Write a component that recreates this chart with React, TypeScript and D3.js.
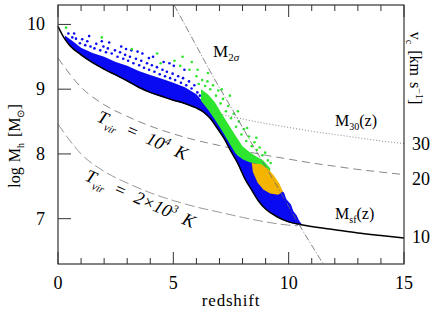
import React from 'react';
import * as d3 from 'd3';

// star-formation threshold mass M_sf(z), solid
const msfZ = [0, 0.25, 0.5, 1, 1.5, 2, 2.5, 3, 3.5, 4, 4.5, 5, 5.5, 6, 6.3, 6.6, 6.9, 7.2, 7.5, 7.8, 8.1, 8.4, 8.7, 9.0, 9.5, 10, 10.5, 11, 12, 13, 14, 15];
const msfM = [9.97, 9.8, 9.68, 9.53, 9.41, 9.31, 9.22, 9.13, 9.03, 8.95, 8.89, 8.83, 8.78, 8.71, 8.65, 8.55, 8.4, 8.24, 8.04, 7.85, 7.62, 7.44, 7.27, 7.15, 7.03, 6.95, 6.91, 6.88, 6.83, 6.78, 6.74, 6.7];

// T_vir = 1e4 K, dashed
const t4Z = [0, 1, 2, 3, 4, 5, 6, 7, 8, 9, 10, 11, 12, 13, 14, 15];
const t4M = [9.48, 9.03, 8.76, 8.58, 8.43, 8.31, 8.21, 8.13, 8.05, 7.98, 7.92, 7.86, 7.81, 7.76, 7.72, 7.68];

// T_vir = 2e3 K, dashed
const t2Z = [0, 1, 2, 3, 4, 5, 6, 7, 8, 9, 10, 10.4];
const t2M = [8.46, 8.0, 7.73, 7.55, 7.4, 7.28, 7.18, 7.1, 7.02, 6.95, 6.9, 6.89];

// M_30(z), dotted
const m30Z = [6.5, 7, 8, 9, 10, 11, 12, 13, 14, 15];
const m30M = [8.67, 8.62, 8.54, 8.47, 8.41, 8.35, 8.3, 8.25, 8.2, 8.16];

// M_2sigma, dash-dot
const m2sZ = [5.03, 5.86, 6.73, 7.6, 8.5, 9.4, 10.4, 11.5];
const m2sM = [10.3, 9.76, 9.19, 8.66, 8.1, 7.56, 6.94, 6.3];

// upper edge of the dense blue cloud
const blueTopZ = [0.3, 0.6, 1, 1.5, 2, 2.5, 3, 3.5, 4, 4.5, 5, 5.5, 6, 6.3, 6.6, 6.9, 7.2, 7.5, 7.8, 8.1, 8.4, 8.7, 9.0, 9.2, 9.3, 9.5, 9.6, 9.8, 9.9, 10.1, 10.2, 10.35, 10.45, 10.55];
const blueTopM = [9.83, 9.75, 9.64, 9.56, 9.5, 9.42, 9.36, 9.28, 9.22, 9.16, 9.1, 9.03, 8.92, 8.8, 8.66, 8.5, 8.33, 8.14, 7.97, 7.92, 7.88, 7.86, 7.8, 7.72, 7.64, 7.56, 7.47, 7.4, 7.3, 7.22, 7.12, 7.05, 6.97, 6.92];

// green band above the knee
const greenZoneZ = [6.2, 6.5, 6.8, 7.1, 7.4, 7.7, 8.0, 8.3, 8.6, 8.9, 9.2];
const greenZoneM = [9.0, 8.92, 8.8, 8.62, 8.45, 8.28, 8.12, 8.03, 7.96, 7.9, 7.78];

// orange patch
const orangeZ = [8.4, 8.8, 9.1, 9.35, 9.6, 9.75, 9.55, 9.2, 8.9, 8.65, 8.45];
const orangeM = [7.86, 7.84, 7.77, 7.67, 7.54, 7.42, 7.37, 7.39, 7.45, 7.56, 7.72];

const blueSpeckles: [number, number][] = [
  [0.45, 9.86], [0.62, 9.8], [0.78, 9.78], [0.95, 9.71], [1.05, 9.77], [1.18, 9.68], [1.27, 9.74], [1.41, 9.66], [1.58, 9.63],
  [1.66, 9.7], [1.83, 9.6], [1.97, 9.66], [2.08, 9.57], [2.16, 9.63], [2.33, 9.55], [2.47, 9.6], [2.58, 9.5], [2.69, 9.57],
  [2.83, 9.47], [2.91, 9.53], [3.04, 9.44], [3.12, 9.5], [3.27, 9.4], [3.38, 9.47], [3.52, 9.37], [3.61, 9.44], [3.73, 9.33],
  [3.86, 9.4], [3.95, 9.3], [4.07, 9.37], [4.18, 9.27], [4.29, 9.34], [4.41, 9.23], [4.53, 9.3], [4.64, 9.2], [4.72, 9.27],
  [4.86, 9.17], [4.97, 9.24], [5.08, 9.14], [5.21, 9.2], [5.33, 9.1], [5.42, 9.17], [5.56, 9.06], [5.68, 9.12], [5.79, 9.01],
  [5.91, 9.06], [6.04, 8.95], [6.15, 8.9], [1.35, 9.82], [2.22, 9.72], [2.74, 9.66], [3.18, 9.6], [3.66, 9.55], [4.12, 9.5],
  [4.58, 9.42], [5.02, 9.36], [5.48, 9.3], [3.94, 9.48], [4.83, 9.4], [2.95, 9.62], [0.7, 9.86], [1.9, 9.74], [3.45, 9.58],
];

const greenSpeckles: [number, number][] = [
  [0.35, 9.95], [1.9, 9.8], [3.2, 9.62], [4.3, 9.55], [4.45, 9.4], [5.05, 9.44], [5.3, 9.36], [5.7, 9.3], [5.8, 9.42], [5.4, 9.5],
  [6.0, 9.2], [6.1, 9.08], [6.05, 9.3], [6.25, 9.14], [6.38, 9.05], [6.48, 9.12], [6.6, 9.0], [6.72, 9.06], [6.85, 8.9],
  [6.95, 8.98], [7.05, 8.78], [7.15, 8.85], [7.28, 8.66], [7.38, 8.74], [7.5, 8.55], [7.62, 8.62], [7.72, 8.42], [7.84, 8.5],
  [7.95, 8.3], [8.06, 8.38], [8.16, 8.2], [8.28, 8.27], [8.4, 8.12], [8.52, 8.18], [8.62, 8.06], [8.74, 8.1], [8.86, 7.98],
  [8.98, 8.02], [9.1, 7.9], [9.22, 7.86], [7.45, 8.9], [7.8, 8.66], [8.2, 8.4], [8.6, 8.25], [6.5, 9.25], [7.1, 9.0],
];

const xTicksMajor = [0, 5, 10, 15];
const xTicksMinor = [1, 2, 3, 4, 6, 7, 8, 9, 11, 12, 13, 14];
const yTicks = [7, 8, 9, 10];
const vcTicks = [10, 20, 30];
const vcLogM = [6.71, 7.61, 8.15];

const FONT = 'Liberation Serif';
const BLUE = '#0a0af2';
const GREEN = '#2ee62e';
const ORANGE = '#f5b400';

export default function App() {
  const x = d3.scaleLinear().domain([0, 15]).range([58, 404]);
  const y = d3.scaleLinear().domain([6.3, 10.3]).range([264, 5]);
  const msfAt = d3.scaleLinear().domain(msfZ).range(msfM);
  const blueAt = d3.scaleLinear().domain(blueTopZ).range(blueTopM);

  const pts = (zs: number[], ms: number[]) => zs.map((z, i) => [z, ms[i]] as [number, number]);
  const smooth = d3.line<[number, number]>().x(d => x(d[0])).y(d => y(d[1])).curve(d3.curveMonotoneX);
  const straight = d3.line<[number, number]>().x(d => x(d[0])).y(d => y(d[1]));

  const blueArea = d3.area<number>()
    .x(z => x(z))
    .y0(z => y(msfAt(z) - 0.01))
    .y1(z => y(blueAt(z)));
  const greenArea = d3.area<number>()
    .x(z => x(z))
    .y0(z => y(blueAt(z) - 0.02))
    .y1((z, i) => y(greenZoneM[i]));

  const r = 1.3;

  return (
    <svg width={436} height={314} style={{ position: 'absolute', left: 0, top: 0, background: '#fff' }}>
      <path d={smooth(pts(t4Z, t4M)) || ''} fill="none" stroke="#888" strokeWidth={1} strokeDasharray="8 5" />
      <path d={smooth(pts(t2Z, t2M)) || ''} fill="none" stroke="#999" strokeWidth={1} strokeDasharray="10 4" />
      <path d={smooth(pts(m30Z, m30M)) || ''} fill="none" stroke="#888" strokeWidth={1} strokeDasharray="1 2" />

      <path d={blueArea(blueTopZ) || ''} fill={BLUE} stroke="none" />
      <path d={greenArea(greenZoneZ) || ''} fill={GREEN} stroke="none" />
      <path d={(straight(pts(orangeZ, orangeM)) || '') + 'Z'} fill={ORANGE} stroke="none" />

      {blueSpeckles.map((d, i) => (
        <circle key={'b' + i} cx={x(d[0])} cy={y(d[1])} r={r} fill={BLUE} />
      ))}
      {greenSpeckles.map((d, i) => (
        <circle key={'g' + i} cx={x(d[0])} cy={y(d[1])} r={r} fill={GREEN} />
      ))}

      <path d={smooth(pts(msfZ, msfM)) || ''} fill="none" stroke="#000" strokeWidth={1.5} />
      <path d={smooth(pts(m2sZ, m2sM)) || ''} fill="none" stroke="#666" strokeWidth={0.8} strokeDasharray="7 2 1 2" />

      {/* frame and ticks */}
      <rect x={58} y={5} width={346} height={259} fill="none" stroke="#333" strokeWidth={1.2} />
      {xTicksMajor.map(t => (
        <g key={'xM' + t} stroke="#333" strokeWidth={1}>
          <line x1={x(t)} x2={x(t)} y1={264} y2={252} />
          <line x1={x(t)} x2={x(t)} y1={5} y2={17} />
        </g>
      ))}
      {xTicksMinor.map(t => (
        <g key={'xm' + t} stroke="#333" strokeWidth={1}>
          <line x1={x(t)} x2={x(t)} y1={264} y2={258} />
          <line x1={x(t)} x2={x(t)} y1={5} y2={11} />
        </g>
      ))}
      {yTicks.map(t => (
        <line key={'y' + t} x1={58} x2={71} y1={y(t)} y2={y(t)} stroke="#333" strokeWidth={1} />
      ))}

      {/* tick labels */}
      {xTicksMajor.map(t => (
        <text key={'xl' + t} x={x(t)} y={289} fontSize={18} fontFamily={FONT} textAnchor="middle">{t}</text>
      ))}
      {yTicks.map(t => (
        <text key={'yl' + t} x={45} y={y(t) + 6} fontSize={18} fontFamily={FONT} textAnchor="end">{t}</text>
      ))}
      {vcTicks.map((t, i) => (
        <text key={'vl' + t} x={412} y={y(vcLogM[i]) + 6} fontSize={18} fontFamily={FONT}>{t}</text>
      ))}

      {/* axis titles */}
      <text x={231} y={306} fontSize={17} fontFamily={FONT} textAnchor="middle" letterSpacing={0.8}>redshift</text>
      <text transform="translate(20,146) rotate(-90)" fontSize={16} fontFamily={FONT} textAnchor="middle">
        log<tspan dx={5}>M</tspan><tspan fontSize={10} dy={4}>h</tspan><tspan dy={-4} dx={6}>[M</tspan><tspan fontSize={10} dy={4}>⊙</tspan><tspan dy={-4}>]</tspan>
      </text>
      <text transform="translate(410,68) rotate(90)" fontSize={16} fontFamily={FONT} textAnchor="middle">
        v<tspan fontSize={10} dy={4}>c</tspan><tspan dy={-4} dx={6}>[km</tspan><tspan dx={6}>s</tspan><tspan fontSize={10} dy={-6}>−1</tspan><tspan dy={6}>]</tspan>
      </text>

      {/* curve labels */}
      <text x={213} y={57} fontSize={17} fontFamily={FONT}>
        M<tspan fontSize={11} dy={4}>2</tspan><tspan fontSize={11} fontStyle="italic">σ</tspan>
      </text>
      <text x={335} y={126} fontSize={16} fontFamily={FONT}>
        M<tspan fontSize={10} dy={4}>30</tspan><tspan dy={-4}>(z)</tspan>
      </text>
      <text x={335} y={219} fontSize={16} fontFamily={FONT}>
        M<tspan fontSize={10} dy={4}>sf</tspan><tspan dy={-4}>(z)</tspan>
      </text>
      <text transform="translate(96,121) rotate(24)" fontSize={18} fontFamily={FONT} fontStyle="italic">
        T<tspan fontSize={11} dy={5}>vir</tspan><tspan dy={-5} dx={9}>=</tspan><tspan dx={10}>10</tspan><tspan fontSize={11} dy={-7}>4</tspan><tspan dy={7} dx={8}>K</tspan>
      </text>
      <text transform="translate(84,180) rotate(24)" fontSize={18} fontFamily={FONT} fontStyle="italic">
        T<tspan fontSize={11} dy={5}>vir</tspan><tspan dy={-5} dx={9}>=</tspan><tspan dx={10}>2×10</tspan><tspan fontSize={11} dy={-7}>3</tspan><tspan dy={7} dx={8}>K</tspan>
      </text>
    </svg>
  );
}
